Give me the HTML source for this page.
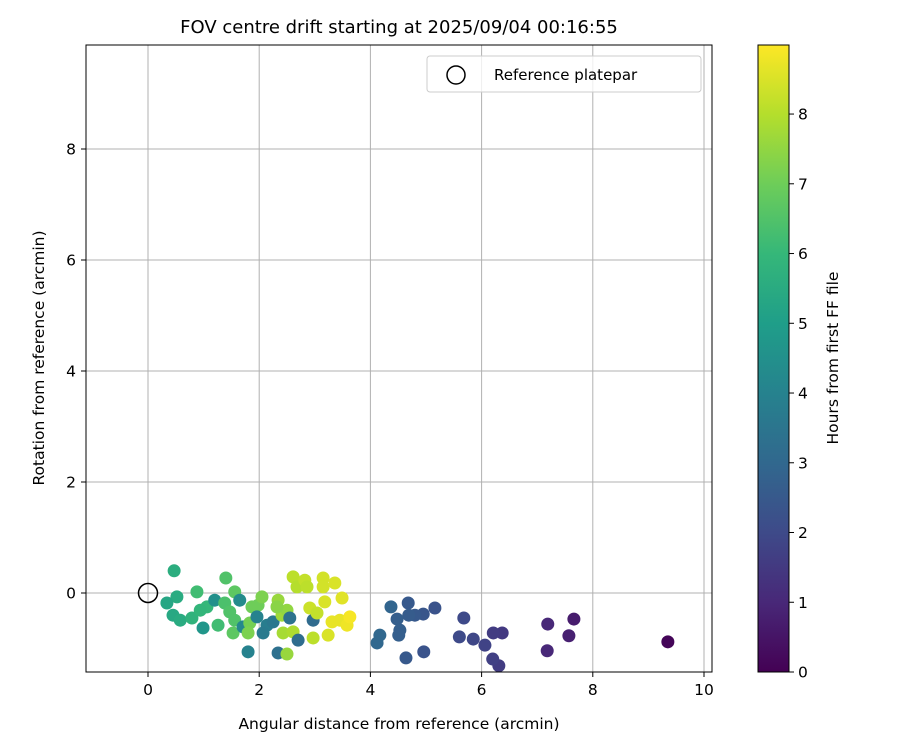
<!DOCTYPE html>
<html><head><meta charset="utf-8"><style>body{margin:0;background:#fff}svg text{font-family:"DejaVu Sans","Liberation Sans",sans-serif;fill:#000}</style></head>
<body>
<svg width="900" height="750" xmlns="http://www.w3.org/2000/svg">
<g id="grid"></g>
<g id="pts"></g>
<rect x="86" y="45" width="626" height="627" fill="none" stroke="#000" stroke-width="1"/>
<g id="axes"></g>
<text x="399" y="33" font-size="18" text-anchor="middle">FOV centre drift starting at 2025/09/04 00:16:55</text>
<text x="399" y="729" font-size="15.5" text-anchor="middle">Angular distance from reference (arcmin)</text>
<text x="44" y="358" font-size="15.5" text-anchor="middle" transform="rotate(-90 44 358)">Rotation from reference (arcmin)</text>
<g>
<rect x="427" y="56" width="274" height="36" rx="3" fill="#fff" fill-opacity="0.8" stroke="#ccc"/>
<circle cx="456" cy="75" r="9" fill="none" stroke="#000" stroke-width="1.5"/>
<text x="494" y="80" font-size="15">Reference platepar</text>
</g>
<defs><linearGradient id="vg" x1="0" y1="1" x2="0" y2="0">
</linearGradient></defs>
<rect id="cbar" x="758" y="45" width="31" height="627" stroke="#000" stroke-width="1"/>
<g id="cticks"></g>
<text x="838" y="358" font-size="15.5" text-anchor="middle" transform="rotate(-90 838 358)">Hours from first FF file</text>
</svg>
<script>
const xTicks=[0,2,4,6,8,10];
const yTicks=[0,2,4,6,8];
const cTicks=[0,1,2,3,4,5,6,7,8];
const xs=[9.35,7.66,7.57,7.19,7.18,6.37,6.21,6.31,6.20,6.06,5.85,5.60,5.68,5.16,4.96,4.95,4.80,4.68,4.69,4.64,4.48,4.37,4.53,4.51,4.17,4.12,0.47,1.40,0.88,0.52,0.34,0.45,0.58,0.79,0.99,1.06,1.2,1.26,1.38,1.47,1.53,1.56,1.65,1.56,1.71,1.80,1.87,1.83,1.80,1.98,2.05,2.14,2.07,2.25,2.34,2.41,2.5,2.55,2.34,2.50,2.43,2.61,2.70,2.61,2.68,2.82,2.86,2.91,2.97,2.97,3.04,3.15,3.15,3.18,3.36,3.49,3.31,3.24,3.45,3.58,3.63,2.32,1.96,0.94];
const ys=[-0.88,-0.47,-0.77,-0.56,-1.04,-0.72,-0.72,-1.31,-1.19,-0.94,-0.83,-0.79,-0.45,-0.27,-1.06,-0.38,-0.40,-0.18,-0.40,-1.17,-0.47,-0.25,-0.67,-0.76,-0.76,-0.90,0.40,0.27,0.02,-0.07,-0.18,-0.40,-0.49,-0.45,-0.63,-0.25,-0.13,-0.58,-0.18,-0.34,-0.72,0.02,-0.13,-0.49,-0.61,-1.06,-0.25,-0.54,-0.72,-0.22,-0.07,-0.58,-0.72,-0.52,-0.13,-0.40,-0.31,-0.45,-1.08,-1.10,-0.72,-0.70,-0.85,0.29,0.11,0.23,0.11,-0.27,-0.49,-0.81,-0.36,0.27,0.11,-0.16,0.18,-0.09,-0.52,-0.76,-0.49,-0.58,-0.43,-0.25,-0.43,-0.31];
const hrs=[0.1,0.7,0.8,1.0,1.0,1.5,1.6,1.6,1.7,1.8,1.9,2.0,2.0,2.3,2.3,2.4,2.5,2.5,2.6,2.5,2.7,2.9,2.7,2.7,3.0,3.0,5.6,6.5,6.2,5.5,5.3,5.4,5.5,5.8,4.7,6.0,4.5,6.2,6.4,6.5,6.7,6.7,4.3,6.5,4.2,4.0,7.0,7.1,7.2,7.0,7.2,3.8,3.7,3.6,7.6,7.7,7.5,3.4,3.3,7.6,7.8,7.9,3.2,8.1,8.0,8.2,8.1,8.3,3.1,8.1,8.2,8.4,8.4,8.5,8.5,8.6,8.7,8.5,8.7,8.8,8.9,7.4,4.0,5.9];
const NS='http://www.w3.org/2000/svg';
const X=v=>148+v*55.6, Y=v=>593-v*55.5, HMAX=8.99, C=h=>672-h*(627/HMAX);
const vir=[[68,1,84],[72,40,120],[62,74,137],[49,104,142],[38,130,142],[31,158,137],[53,183,121],[109,205,89],[180,222,44],[253,231,37]];
function col(t){t=Math.max(0,Math.min(1,t))*9;const i=Math.min(8,Math.floor(t)),f=t-i;const a=vir[i],b=vir[i+1];return `rgb(${a.map((v,k)=>Math.round(v+(b[k]-v)*f)).join(',')})`;}
function mk(tag,at,p){const e=document.createElementNS(NS,tag);for(const k in at)e.setAttribute(k,at[k]);p.appendChild(e);return e;}
const g=document.getElementById('grid'),ax=document.getElementById('axes'),pts=document.getElementById('pts'),ct=document.getElementById('cticks');
xTicks.forEach(v=>{const l=mk('line',{x1:X(v),x2:X(v),y1:45,y2:672,stroke:'#b0b0b0','stroke-width':1},g);
mk('line',{x1:X(v),x2:X(v),y1:672,y2:677,stroke:'#000'},ax);const t=mk('text',{x:X(v),y:695,'font-size':15.5,'text-anchor':'middle'},ax);t.textContent=v;});
yTicks.forEach(v=>{const l=mk('line',{x1:86,x2:712,y1:Y(v),y2:Y(v),stroke:'#b0b0b0','stroke-width':1},g);
mk('line',{x1:81,x2:86,y1:Y(v),y2:Y(v),stroke:'#000'},ax);const t=mk('text',{x:76,y:Y(v)+5.5,'font-size':15.5,'text-anchor':'end'},ax);t.textContent=v;});
xs.forEach((v,i)=>{const c=mk('circle',{cx:X(v),cy:Y(ys[i]),r:6.5,fill:col(hrs[i]/HMAX)},pts);});
const r=mk('circle',{cx:X(0),cy:Y(0),r:9.5,fill:'none',stroke:'#000','stroke-width':1.5},pts);
const gr=document.getElementById('vg');vir.forEach((c,i)=>mk('stop',{offset:i/9,'stop-color':`rgb(${c})`},gr));
document.getElementById('cbar').setAttribute('fill','url(#vg)');
cTicks.forEach(v=>{mk('line',{x1:789,x2:794,y1:C(v),y2:C(v),stroke:'#000'},ct);const t=mk('text',{x:798,y:C(v)+5.5,'font-size':15.5},ct);t.textContent=v;});
</script>
</body></html>
